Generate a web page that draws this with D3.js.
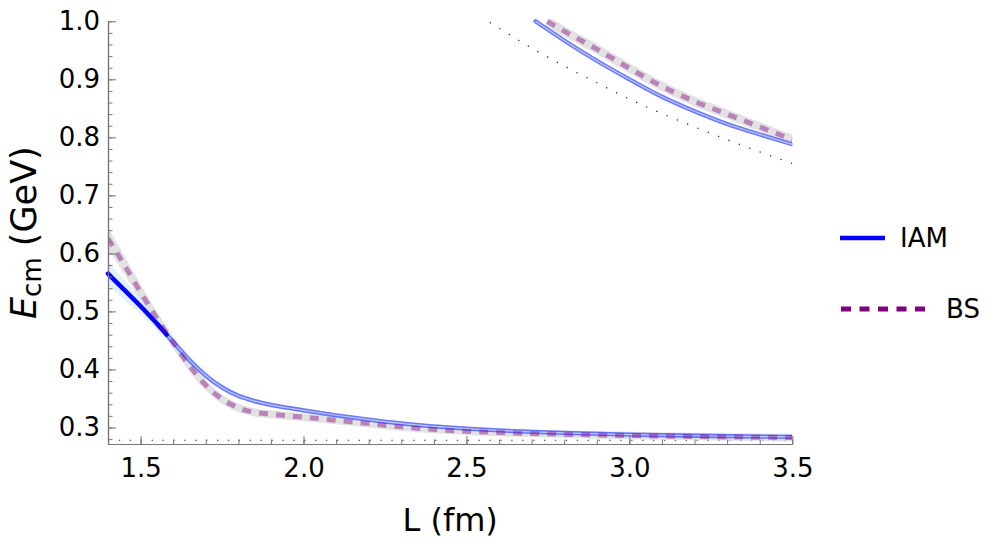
<!DOCTYPE html>
<html>
<head>
<meta charset="utf-8">
<script src="https://cdn.jsdelivr.net/npm/d3@7"></script>
<style>
  html, body { margin: 0; padding: 0; background: #fff; }
  svg { display: block; font-family: "DejaVu Sans", sans-serif; }
</style>
</head>
<body>
<svg id="chart" width="996" height="544"></svg>
<script>
// ---------------- data ----------------
// lower IAM level
const iamL   = [1.4, 1.45, 1.5, 1.55, 1.58, 1.6, 1.65, 1.7, 1.75, 1.8, 1.85, 1.9, 1.95, 2.0, 2.1, 2.2, 2.3, 2.4, 2.5, 2.6, 2.8, 3.0, 3.2, 3.5];
const iamE   = [0.565, 0.537, 0.509, 0.479, 0.460, 0.4475, 0.416, 0.3895, 0.369, 0.3545, 0.3455, 0.339, 0.334, 0.3295, 0.321, 0.3135, 0.307, 0.302, 0.298, 0.295, 0.2907, 0.2877, 0.2857, 0.2838];
const iamErr = [0.020, 0.017, 0.014, 0.011, 0.010, 0.009, 0.008, 0.007, 0.006, 0.005, 0.0045, 0.004, 0.004, 0.0035, 0.003, 0.003, 0.003, 0.003, 0.003, 0.003, 0.003, 0.003, 0.003, 0.003];
// lower BS level
const bsL   = [1.4, 1.45, 1.5, 1.55, 1.6, 1.65, 1.7, 1.75, 1.8, 1.85, 1.9, 1.95, 2.0, 2.1, 2.2, 2.3, 2.4, 2.5, 2.6, 2.8, 3.0, 3.2, 3.5];
const bsE   = [0.626, 0.580, 0.533, 0.488, 0.4465, 0.4066, 0.3727, 0.349, 0.334, 0.326, 0.3228, 0.3202, 0.3177, 0.3123, 0.3066, 0.3010, 0.2965, 0.2935, 0.2913, 0.2883, 0.2861, 0.2844, 0.2825];
const bsErr = [0.018, 0.016, 0.014, 0.012, 0.011, 0.010, 0.009, 0.008, 0.0075, 0.007, 0.007, 0.007, 0.007, 0.0068, 0.0066, 0.0065, 0.0065, 0.0065, 0.0065, 0.0065, 0.0065, 0.0065, 0.0065];
// upper levels
const iamUpL = [2.712, 2.8, 2.9, 3.0, 3.1, 3.2, 3.3, 3.4, 3.5];
const iamUpE = [1.0, 0.967, 0.932, 0.900, 0.870, 0.845, 0.823, 0.805, 0.788];
const bsUpL  = [2.748, 2.8, 2.9, 3.0, 3.1, 3.2, 3.3, 3.4, 3.5];
const bsUpE  = [1.0, 0.983, 0.952, 0.919, 0.888, 0.862, 0.840, 0.818, 0.796];
// free two-particle level and threshold (dotted)
const freeL = [2.572, 2.6, 2.7, 2.8, 2.9, 3.0, 3.1, 3.2, 3.3, 3.4, 3.5];
const freeE = [0.998, 0.988, 0.954, 0.923, 0.894, 0.866, 0.841, 0.818, 0.796, 0.775, 0.755];
const thresholdE = [0.278];
// axes
const xMajorTicks = [1.5, 2.0, 2.5, 3.0, 3.5];
const yMajorTicks = [0.3, 0.4, 0.5, 0.6, 0.7, 0.8, 0.9, 1.0];
const xDomain = [1.4, 3.5];
const yDomain = [0.2715, 1.0];
const legendLabels = ["IAM", "BS"];
const xTitle = "L (fm)";

// ---------------- layout ----------------
const svg = d3.select("#chart");
const pL = 108, pR = 792.3, pT = 21.3, pB = 444;
const x = d3.scaleLinear().domain(xDomain).range([pL, pR]);
const y = d3.scaleLinear().domain(yDomain).range([pB, pT]);

const defs = svg.append("defs");
defs.append("clipPath").attr("id", "clip")
  .append("rect").attr("x", pL - 3).attr("y", pT - 3)
  .attr("width", pR - pL + 3).attr("height", pB - pT + 3);
defs.append("clipPath").attr("id", "clipStrict")
  .append("rect").attr("x", pL).attr("y", pT - 3)
  .attr("width", pR - pL).attr("height", pB - pT + 3);

const plot = svg.append("g");
const loose = "url(#clip)", strict = "url(#clipStrict)";

const zip = (a, b) => a.map((v, i) => [v, b[i]]);
const line = d3.line().x(d => x(d[0])).y(d => y(d[1])).curve(d3.curveMonotoneX);
const area = d3.area().x(d => x(d[0])).y0(d => y(d[1] - d[2])).y1(d => y(d[1] + d[2])).curve(d3.curveMonotoneX);

// threshold dotted line
plot.append("line").attr("clip-path", strict)
  .attr("x1", x(xDomain[0])).attr("x2", x(xDomain[1]))
  .attr("y1", y(thresholdE[0])).attr("y2", y(thresholdE[0]))
  .attr("stroke", "#222").attr("stroke-width", 1.2)
  .attr("stroke-dasharray", "1.3 9.6");
// free dotted curve
plot.append("path").attr("clip-path", strict).datum(zip(freeL, freeE))
  .attr("d", line).attr("fill", "none")
  .attr("stroke", "#222").attr("stroke-width", 1.2)
  .attr("stroke-dasharray", "1.3 9.8");

// BS gray bands
const bsData = bsL.map((v, i) => [v, bsE[i], bsErr[i]]);
plot.append("path").attr("clip-path", strict).datum(bsData).attr("d", area)
  .attr("fill", "#d6d6d6").attr("fill-opacity", 0.7);
plot.append("path").attr("clip-path", strict).datum(zip(bsUpL, bsUpE)).attr("d", line)
  .attr("fill", "none").attr("stroke", "#d6d6d6").attr("stroke-opacity", 0.7)
  .attr("stroke-width", 9);

// IAM lower: halo, double line, solid segment
const iamData = iamL.map((v, i) => [v, iamE[i], iamErr[i]]);
plot.append("path").attr("clip-path", strict).datum(iamData).attr("d", area)
  .attr("fill", "#cfe6ff").attr("fill-opacity", 0.6);
const iamLight = iamData.filter(d => d[0] >= 1.55);
plot.append("path").attr("clip-path", loose).datum(iamLight).attr("d", line)
  .attr("fill", "none").attr("stroke", "#4456ff").attr("stroke-opacity", 0.78)
  .attr("stroke-width", 4.3);
plot.append("path").attr("clip-path", loose).datum(iamLight).attr("d", line)
  .attr("fill", "none").attr("stroke", "#c0c8ff").attr("stroke-width", 1.2);
plot.append("path").attr("clip-path", loose).datum(iamData.filter(d => d[0] <= 1.58)).attr("d", line)
  .attr("fill", "none").attr("stroke", "#0000ff").attr("stroke-width", 4.5)
  .attr("stroke-linecap", "round");

// IAM upper
plot.append("path").attr("clip-path", loose).datum(zip(iamUpL, iamUpE)).attr("d", line)
  .attr("fill", "none").attr("stroke", "#4456ff").attr("stroke-opacity", 0.78)
  .attr("stroke-width", 4.3).attr("stroke-linecap", "round");
plot.append("path").attr("clip-path", loose).datum(zip(iamUpL, iamUpE)).attr("d", line)
  .attr("fill", "none").attr("stroke", "#c0c8ff").attr("stroke-width", 1.2);

// BS dashes
plot.append("path").attr("clip-path", strict).datum(zip(bsL, bsE)).attr("d", line)
  .attr("fill", "none").attr("stroke", "#800080").attr("stroke-opacity", 0.42)
  .attr("stroke-width", 5).attr("stroke-dasharray", "9 8");
plot.append("path").attr("clip-path", strict).datum(zip(bsUpL, bsUpE)).attr("d", line)
  .attr("fill", "none").attr("stroke", "#800080").attr("stroke-opacity", 0.42)
  .attr("stroke-width", 5).attr("stroke-dasharray", "9 8");

// ---------------- axes ----------------
const fmt = d3.format(".1f");
const axisColor = "#777";
const xMinor = d3.range(14, 36).map(v => v / 10);
const yMinor = d3.range(14, 51).map(v => v / 50);

const gxMinor = svg.append("g").attr("transform", `translate(0,${pB})`)
  .call(d3.axisBottom(x).tickValues(xMinor).tickSize(-4.5).tickSizeOuter(0).tickFormat(""));
const gx = svg.append("g").attr("transform", `translate(0,${pB})`)
  .call(d3.axisBottom(x).tickValues(xMajorTicks).tickSize(-8).tickSizeOuter(0).tickPadding(15).tickFormat(fmt));
const gyMinor = svg.append("g").attr("transform", `translate(${pL},0)`)
  .call(d3.axisLeft(y).tickValues(yMinor).tickSize(-4.5).tickSizeOuter(0).tickFormat(""));
const gy = svg.append("g").attr("transform", `translate(${pL},0)`)
  .call(d3.axisLeft(y).tickValues(yMajorTicks).tickSize(-8).tickSizeOuter(0).tickPadding(8).tickFormat(fmt));

[gxMinor, gx, gyMinor, gy].forEach(g => {
  g.selectAll("path.domain").attr("stroke", axisColor).attr("stroke-width", 1.2);
  g.selectAll(".tick line").attr("stroke", axisColor).attr("stroke-width", 1);
  g.selectAll("text").attr("fill", "#000").attr("font-size", 26)
    .attr("font-family", "'DejaVu Sans', sans-serif");
});

// axis titles
svg.append("text").attr("x", (pL + pR) / 2).attr("y", 531)
  .attr("text-anchor", "middle").attr("font-size", 32).text(xTitle);

const yt = svg.append("text")
  .attr("transform", `translate(36,${(pT + pB) / 2}) rotate(-90)`)
  .attr("text-anchor", "middle").attr("font-size", 35);
yt.append("tspan").attr("font-style", "italic").text("E");
yt.append("tspan").attr("font-size", 26).attr("dy", 5).text("cm");
yt.append("tspan").attr("dy", -5).text("\u00a0(GeV)");

// ---------------- legend ----------------
const lg = svg.append("g");
lg.append("line").attr("x1", 840).attr("x2", 885).attr("y1", 238).attr("y2", 238)
  .attr("stroke", "#0000ff").attr("stroke-width", 4.5);
lg.append("text").attr("x", 900).attr("y", 246.5).attr("font-size", 26).text(legendLabels[0]);
lg.append("line").attr("x1", 841).attr("x2", 925).attr("y1", 309).attr("y2", 309)
  .attr("stroke", "#800080").attr("stroke-width", 5).attr("stroke-dasharray", "10 8.5");
lg.append("text").attr("x", 946).attr("y", 318).attr("font-size", 26).text(legendLabels[1]);
</script>
</body>
</html>
